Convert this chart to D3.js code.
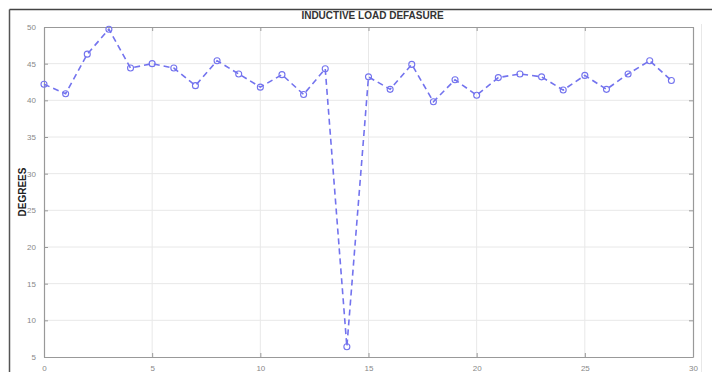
<!DOCTYPE html>
<html>
<head>
<meta charset="utf-8">
<script src="https://cdn.jsdelivr.net/npm/d3@7/dist/d3.min.js"></script>
<style>
html,body{margin:0;padding:0;background:#fff;}
svg{display:block;}
</style>
</head>
<body>
<svg id="chart" width="712" height="372"></svg>
<script>
const title = "INDUCTIVE LOAD DEFASURE";
const yLabel = "DEGREES";
const xValues = [0,1,2,3,4,5,6,7,8,9,10,11,12,13,14,15,16,17,18,19,20,21,22,23,24,25,26,27,28,29];
const yValues = [42.2,40.9,46.3,49.7,44.4,45.0,44.4,42.0,45.4,43.6,41.8,43.5,40.8,44.3,6.4,43.2,41.5,44.9,39.8,42.8,40.7,43.1,43.6,43.2,41.4,43.4,41.5,43.6,45.4,42.7];
const xTicks = [0,5,10,15,20,25,30];
const yTicks = [5,10,15,20,25,30,35,40,45,50];

const svg = d3.select("#chart");
const W = 712, H = 372;
const m = {left:44, top:27, right:693, bottom:357};

// outer frame fragments
svg.append("line").attr("x1",9.5).attr("x2",9.5).attr("y1",9.5).attr("y2",H).attr("stroke","#555").attr("stroke-width",1.5);
svg.append("line").attr("x1",9.5).attr("x2",W).attr("y1",9.5).attr("y2",9.5).attr("stroke","#444").attr("stroke-width",1.5);
svg.append("line").attr("x1",701.5).attr("x2",701.5).attr("y1",24).attr("y2",H).attr("stroke","#e8e8e8").attr("stroke-width",1);

const x = d3.scaleLinear().domain([0,30]).range([m.left, m.right]);
const y = d3.scaleLinear().domain([5,50]).range([m.bottom, m.top]);

// grid
const g = svg.append("g");
g.selectAll(".gx").data(xTicks.slice(1,-1)).enter().append("line")
  .attr("x1",d=>x(d)).attr("x2",d=>x(d)).attr("y1",m.top).attr("y2",m.bottom)
  .attr("stroke","#e8e8e8").attr("stroke-width",1);
g.selectAll(".gy").data(yTicks.slice(1,-1)).enter().append("line")
  .attr("x1",m.left).attr("x2",m.right).attr("y1",d=>y(d)).attr("y2",d=>y(d))
  .attr("stroke","#e8e8e8").attr("stroke-width",1);

// axes
const axColor = "#999";
const xAxisB = d3.axisBottom(x).tickValues(xTicks).tickSizeInner(-4).tickSizeOuter(0).tickPadding(8).tickFormat(d3.format("d"));
const xAxisT = d3.axisTop(x).tickValues(xTicks).tickSizeInner(-4).tickSizeOuter(0).tickFormat("");
const yAxisL = d3.axisLeft(y).tickValues(yTicks).tickSizeInner(-4).tickSizeOuter(0).tickPadding(8).tickFormat(d3.format("d"));
const yAxisR = d3.axisRight(y).tickValues(yTicks).tickSizeInner(-4).tickSizeOuter(0).tickFormat("");

function style(sel){
  sel.select(".domain").attr("stroke",axColor).attr("stroke-width",1.2);
  sel.selectAll(".tick line").attr("stroke",axColor);
  sel.selectAll(".tick text").attr("fill","#888").attr("font-family","Liberation Sans, Arial, sans-serif").attr("font-size",8);
}
svg.append("g").attr("transform",`translate(0,${m.bottom})`).call(xAxisB).call(style);
svg.append("g").attr("transform",`translate(0,${m.top})`).call(xAxisT).call(style);
svg.append("g").attr("transform",`translate(${m.left},0)`).call(yAxisL).call(style);
svg.append("g").attr("transform",`translate(${m.right},0)`).call(yAxisR).call(style);

// line
const data = xValues.map((d,i)=>({x:d,y:yValues[i]}));
const lineColor = "#7373ee";
svg.append("path").datum(data)
  .attr("d", d3.line().x(d=>x(d.x)).y(d=>y(d.y)))
  .attr("fill","none").attr("stroke",lineColor).attr("stroke-width",1.6)
  .attr("stroke-dasharray","6,4");
svg.selectAll(".pt").data(data).enter().append("circle")
  .attr("cx",d=>x(d.x)).attr("cy",d=>y(d.y)).attr("r",3)
  .attr("fill","none").attr("stroke",lineColor).attr("stroke-width",1.1);

// title
svg.append("text").attr("x",(m.left+m.right)/2+4).attr("y",19)
  .attr("text-anchor","middle").attr("font-family","Liberation Sans, Arial, sans-serif")
  .attr("font-weight","bold").attr("font-size",10).attr("fill","#333").text(title);

// y label
svg.append("text").attr("transform",`translate(26,${(m.top+m.bottom)/2}) rotate(-90)`)
  .attr("text-anchor","middle").attr("font-family","Liberation Sans, Arial, sans-serif")
  .attr("font-weight","bold").attr("font-size",10).attr("fill","#222").text(yLabel);
</script>
</body>
</html>
